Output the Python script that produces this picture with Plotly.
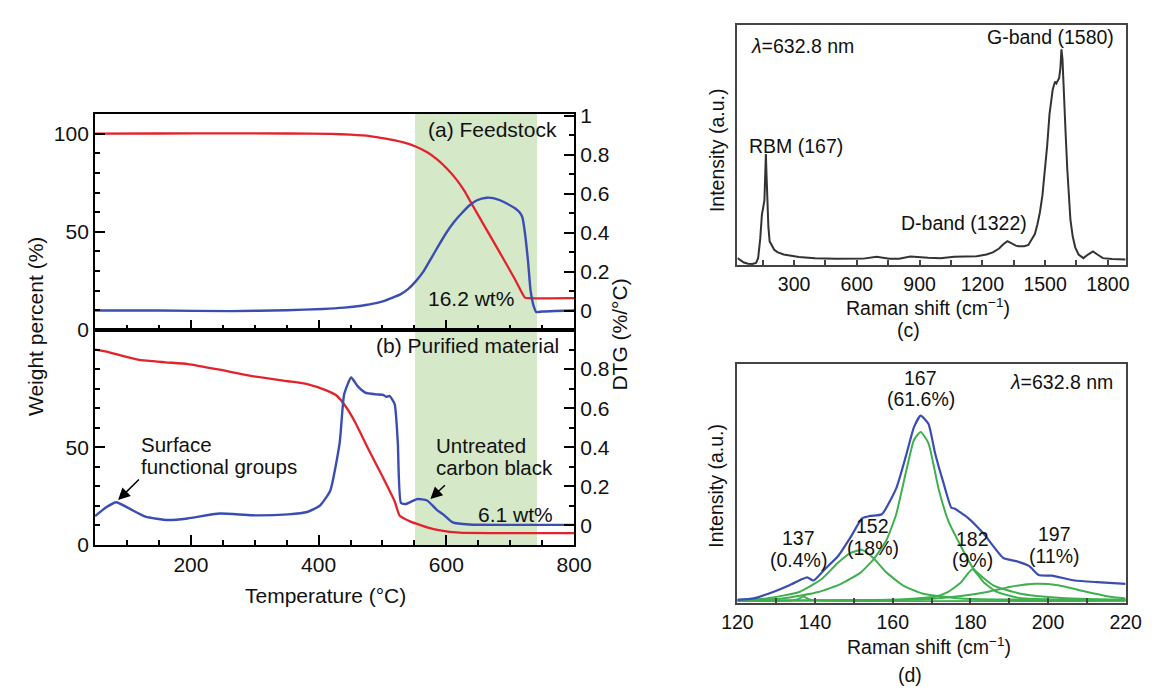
import plotly.graph_objects as go

W, H = 1155, 695
FONT = "Liberation Sans, Arial, Helvetica, sans-serif"

# ---------------- data ----------------
# (a) Feedstock: weight percent (red) and DTG (blue)
a_temp_w = [50, 150, 250, 350, 420, 450, 480, 505, 530, 552, 570, 585, 600, 615, 628, 639, 660, 684, 708, 723, 728, 800]
a_weight = [100, 100.1, 100.2, 100.1, 99.9, 99.5, 98.8, 97.5, 95.8, 93.5, 90.5, 87, 82.5, 77, 71, 64.7, 52.8, 39.3, 25.5, 16.5, 16.2, 16.2]
a_temp_d = [50, 150, 263, 350, 407, 440, 467, 490, 503, 515, 528, 540, 552, 564, 576, 588, 600, 612, 624, 636, 648, 663,
            675, 684, 696, 708, 714, 719, 723, 728, 732, 737, 741, 750, 770, 800]
a_dtg = [0.0, 0.0, -0.003, 0.002, 0.008, 0.015, 0.025, 0.038, 0.05, 0.065, 0.083, 0.11, 0.15, 0.2, 0.267, 0.335, 0.4,
         0.455, 0.5, 0.54, 0.567, 0.58, 0.577, 0.567, 0.548, 0.525, 0.508, 0.48, 0.4, 0.25, 0.1, 0.02, -0.008, -0.005,
         -0.002, 0.0]

# (b) Purified material
b_temp_w = [50, 68, 90, 119, 160, 195, 245, 296, 352, 382, 413, 428, 443, 458, 478, 499, 519, 527, 544, 554, 570, 590,
            620, 680, 800]
b_weight = [100, 99, 97, 94.7, 93.5, 92.6, 89.7, 86.4, 83.8, 82.3, 79.0, 76.5, 70.6, 62.3, 49, 35.7, 22.4, 15, 12.0,
            10.8, 9.0, 7.5, 6.3, 6.1, 6.1]
b_temp_d = [50, 68, 83, 104, 129, 164, 195, 245, 296, 352, 382, 402, 418, 433, 440, 451, 461, 473, 489, 501, 506, 511,
            519, 524, 529, 537, 554, 570, 585, 595, 610, 636, 700, 800]
b_dtg = [0.048, 0.094, 0.119, 0.086, 0.045, 0.028, 0.036, 0.061, 0.052, 0.057, 0.069, 0.102, 0.176, 0.424, 0.671, 0.757,
         0.713, 0.680, 0.671, 0.668, 0.658, 0.663, 0.622, 0.424, 0.115, 0.110, 0.135, 0.128, 0.08, 0.057, 0.016, 0.005,
         0.003, 0.003]

# (c) Raman spectrum
c_shift = [29, 45, 60, 80, 100, 118, 128, 138, 146, 152, 158, 162, 165, 168, 172, 177, 183, 192, 205, 220, 250, 323, 400,
           500, 632, 694, 756, 802, 856, 941, 1000, 1065, 1120, 1173, 1220, 1250, 1280, 1300, 1320, 1340, 1360, 1374,
           1400, 1420, 1430, 1440, 1451, 1463, 1475, 1487, 1498, 1510, 1521, 1530, 1536, 1542, 1548, 1554, 1560, 1567,
           1573, 1578, 1583, 1590, 1598, 1606, 1614, 1621, 1632, 1644, 1660, 1683, 1705, 1729, 1750, 1776, 1820, 1885]
c_int = [0.03, 0.02, 0.012, 0.007, 0.006, 0.01, 0.03, 0.11, 0.21, 0.24, 0.27, 0.38, 0.464, 0.38, 0.26, 0.16, 0.1, 0.085,
         0.065, 0.055, 0.045, 0.035, 0.03, 0.027, 0.028, 0.036, 0.028, 0.028, 0.037, 0.032, 0.03, 0.036, 0.036, 0.038,
         0.045, 0.054, 0.07, 0.088, 0.101, 0.092, 0.082, 0.08, 0.08, 0.085, 0.1, 0.11, 0.13, 0.17, 0.22, 0.29, 0.38,
         0.5, 0.63, 0.7, 0.73, 0.75, 0.765, 0.758, 0.77, 0.78, 0.82, 0.9, 0.86, 0.68, 0.55, 0.4, 0.28, 0.19, 0.12,
         0.075, 0.045, 0.03, 0.045, 0.058, 0.045, 0.03, 0.026, 0.024]

# (d) RBM region: measured (blue) and fitted components (green)
d_shift = [120, 124.2, 129.2, 133.4, 136.7, 138, 139.6, 142.5, 145.9, 149.2, 152.1, 154.2, 157.2, 160.9, 163.4, 165.5,
           167.2, 169.2, 170.9, 173, 175.1, 175.9, 179.3, 183.4, 188.5, 191.8, 195.1, 197.6, 201, 206.8, 212.6, 220]
d_int = [0.014, 0.02, 0.047, 0.075, 0.101, 0.108, 0.095, 0.142, 0.196, 0.277, 0.355, 0.365, 0.372, 0.48, 0.615, 0.737,
         0.784, 0.75, 0.628, 0.507, 0.399, 0.396, 0.358, 0.291, 0.189, 0.176, 0.156, 0.118, 0.115, 0.095, 0.088, 0.081]
fit167_x = [120, 131.7, 140.9, 146.7, 151.7, 155, 158.4, 160.9, 163.4, 165.5, 167.2, 169.2, 171.8, 174.3, 177.6, 180.9,
            185.9, 192.6, 202.6, 220]
fit167_y = [0.014, 0.02, 0.047, 0.081, 0.128, 0.182, 0.264, 0.372, 0.547, 0.683, 0.716, 0.669, 0.48, 0.345, 0.237, 0.142,
            0.075, 0.041, 0.023, 0.014]
fit152_x = [120, 127.5, 135.9, 141.7, 145.9, 149.2, 152.1, 155, 158.4, 162.6, 167.6, 177.6, 220]
fit152_y = [0.012, 0.02, 0.047, 0.101, 0.169, 0.21, 0.223, 0.189, 0.128, 0.075, 0.041, 0.02, 0.012]
fit137_x = [120, 133, 135.5, 137, 138.5, 141, 220]
fit137_y = [0.01, 0.011, 0.016, 0.028, 0.016, 0.011, 0.01]
fit182_x = [120, 160, 166, 170.9, 174.3, 177.6, 180.5, 183.4, 186.8, 192.6, 200, 220]
fit182_y = [0.01, 0.014, 0.02, 0.027, 0.047, 0.088, 0.142, 0.088, 0.047, 0.022, 0.016, 0.012]
fit197_x = [120, 150, 169.2, 177.6, 184.3, 190.1, 196.8, 202.6, 209.3, 216, 220]
fit197_y = [0.01, 0.013, 0.018, 0.03, 0.047, 0.068, 0.081, 0.075, 0.05, 0.027, 0.02]

temp_ticks = [200, 400, 600, 800]
raman_ticks = [300, 600, 900, 1200, 1500, 1800]
rbm_ticks = [120, 140, 160, 180, 200, 220]

RED = "#e3232b"
BLUE = "#3a4db3"
GREEN_LINE = "#3fb04e"
SHADE = "#d5e8c8"
GRAY = "#333333"


def X(p):
    return p / W


def Y(p):
    return 1 - p / H


fig = go.Figure()
spl = dict(shape="spline", smoothing=0.5)
fig.add_trace(go.Scatter(x=a_temp_w, y=a_weight, xaxis="x", yaxis="y", mode="lines",
                         line=dict(color=RED, width=2.3, **spl)))
fig.add_trace(go.Scatter(x=a_temp_d, y=a_dtg, xaxis="x", yaxis="y2", mode="lines",
                         line=dict(color=BLUE, width=2.4, **spl)))
fig.add_trace(go.Scatter(x=b_temp_w, y=b_weight, xaxis="x2", yaxis="y3", mode="lines",
                         line=dict(color=RED, width=2.3, **spl)))
fig.add_trace(go.Scatter(x=b_temp_d, y=b_dtg, xaxis="x2", yaxis="y4", mode="lines",
                         line=dict(color=BLUE, width=2.4, **spl)))
fig.add_trace(go.Scatter(x=c_shift, y=c_int, xaxis="x3", yaxis="y5", mode="lines",
                         line=dict(color=GRAY, width=2)))
for fx, fy in [(fit137_x, fit137_y), (fit152_x, fit152_y), (fit167_x, fit167_y),
               (fit182_x, fit182_y), (fit197_x, fit197_y)]:
    fig.add_trace(go.Scatter(x=fx, y=fy, xaxis="x4", yaxis="y6", mode="lines",
                             line=dict(color=GREEN_LINE, width=2, **spl)))
fig.add_trace(go.Scatter(x=d_shift, y=d_int, xaxis="x4", yaxis="y6", mode="lines",
                         line=dict(color=BLUE, width=2.2, **spl)))

ab_dom_x = [X(81.5), X(575)]
a_dom_y = [Y(330), Y(107.3)]
b_dom_y = [Y(551.7), Y(330)]
cd_dom_x = [X(743.3), X(1143.3)]
c_dom_y = [Y(263.3), Y(15.7)]
d_dom_y = [Y(611.7), Y(365)]

tf_ab = dict(family=FONT, size=21, color="#111")
tf_cd = dict(family=FONT, size=19.5, color="#111")
base = dict(showgrid=False, zeroline=False, showline=True, linecolor="black", linewidth=2,
            ticks="inside", tickcolor="black", tickfont=tf_ab)
mn = dict(ticks="inside", tick0=0, ticklen=5, tickwidth=1.5, tickcolor="black")

fig.update_layout(
    width=W, height=H, margin=dict(l=0, r=0, t=0, b=0), autosize=False,
    paper_bgcolor="white", plot_bgcolor="white", showlegend=False,
    font=dict(family=FONT, size=20, color="#111"),
    xaxis=dict(base, domain=ab_dom_x, anchor="y", range=[50, 800], tickvals=temp_ticks, ticklen=10,
               tickwidth=2, showticklabels=False, mirror=True, minor=dict(mn, dtick=50)),
    yaxis=dict(base, domain=a_dom_y, anchor="x", range=[0, 110], tickvals=[0, 50, 100], ticklen=10, tickwidth=2,
               minor=dict(mn, dtick=10)),
    yaxis2=dict(base, overlaying="y", side="right", anchor="x", range=[-0.1, 1.01],
                tickvals=[0, 0.2, 0.4, 0.6, 0.8, 1], ticktext=["0", "0.2", "0.4", "0.6", "0.8", "1"],
                ticklen=10, tickwidth=2, minor=dict(mn, dtick=0.1)),
    xaxis2=dict(base, domain=ab_dom_x, anchor="y3", range=[50, 800], tickvals=temp_ticks, ticklen=10,
                tickwidth=2, mirror=True, minor=dict(mn, dtick=50)),
    yaxis3=dict(base, domain=b_dom_y, anchor="x2", range=[0, 110], tickvals=[0, 50], ticklen=10, tickwidth=2,
                minor=dict(mn, dtick=10)),
    yaxis4=dict(base, overlaying="y3", side="right", anchor="x2", range=[-0.1, 1.0],
                tickvals=[0, 0.2, 0.4, 0.6, 0.8], ticktext=["0", "0.2", "0.4", "0.6", "0.8"],
                ticklen=10, tickwidth=2, minor=dict(mn, dtick=0.1)),
    xaxis3=dict(base, domain=cd_dom_x, anchor="y5", range=[29, 1885], tickvals=raman_ticks, ticklen=5,
                tickwidth=1.5, mirror=True, linecolor="#444", tickcolor="#444", tickfont=tf_cd,
                minor=dict(mn, dtick=150, tickcolor="#444")),
    yaxis5=dict(base, domain=c_dom_y, anchor="x3", range=[0, 1], showticklabels=False, ticks="",
                mirror=True, linecolor="#444"),
    xaxis4=dict(base, domain=cd_dom_x, anchor="y6", range=[120, 220], tickvals=rbm_ticks, ticklen=5,
                tickwidth=1.5, mirror=True, linecolor="#444", tickcolor="#444", tickfont=tf_cd,
                minor=dict(mn, dtick=10, tickcolor="#444")),
    yaxis6=dict(base, domain=d_dom_y, anchor="x4", range=[0, 1], showticklabels=False, ticks="",
                mirror=True, linecolor="#444"),
)

# green shaded burn-off windows
for xr, yr in [("x", "y domain"), ("x2", "y3 domain")]:
    fig.add_shape(type="rect", xref=xr, yref=yr, x0=551, x1=742, y0=0, y1=1,
                  fillcolor=SHADE, line=dict(width=0), layer="below")

ann = []


def txt(text, x, y, xref="paper", yref="paper", xanchor="center", yanchor="middle", size=20, angle=0):
    ann.append(dict(text=text, x=x, y=y, xref=xref, yref=yref, xanchor=xanchor, yanchor=yanchor,
                    showarrow=False, textangle=angle, borderpad=0,
                    font=dict(family=FONT, size=size, color="#111")))


# axis titles
txt("Weight percent (%)", X(20), Y(326.5), size=21, angle=-90)
txt("DTG (%/°C)", X(622), Y(335), size=21, angle=-90)
txt("Temperature (°C)", X(319), Y(604), size=21)
txt("Intensity (a.u.)", X(721.7), Y(144), size=19.5, angle=-90)
txt("Raman shift (cm<sup>−1</sup>)", X(940), Y(306), size=19.5)
txt("(c)", X(920), Y(330), size=19.5)
txt("Intensity (a.u.)", X(721.7), Y(490), size=19.5, angle=-90)
txt("Raman shift (cm<sup>−1</sup>)", X(941), Y(656), size=19.5)
txt("(d)", X(921), Y(686), size=19.5)

# panel (a)
txt("(a) Feedstock", 775, 0.933, "x", "y2", xanchor="right", size=21)
txt("16.2 wt%", 570, 0.063, "x", "y2", xanchor="left", size=21)
# panel (b)
txt("(b) Purified material", 778, 0.919, "x2", "y4", xanchor="right", size=21)
txt("Surface", 121, 0.415, "x2", "y4", xanchor="left", size=20.5)
txt("functional groups", 121, 0.302, "x2", "y4", xanchor="left", size=20.5)
txt("Untreated", 582, 0.408, "x2", "y4", xanchor="left", size=20.5)
txt("carbon black", 582, 0.295, "x2", "y4", xanchor="left", size=20.5)
txt("6.1 wt%", 768, 0.057, "x2", "y4", xanchor="right", size=21)
for hx, hy, tx, ty in [(86, 0.13, 121, 0.243), (575, 0.135, 600, 0.213)]:
    ann.append(dict(text="", x=hx, y=hy, xref="x2", yref="y4", ax=tx, ay=ty, axref="x2", ayref="y4",
                    showarrow=True, arrowhead=2, arrowsize=1.6, arrowwidth=1.5, arrowcolor="black", standoff=0))
# panel (c)
txt("<i>λ</i>=632.8 nm", 91, 0.915, "x3", "y5", xanchor="left", size=19.5)
txt("RBM (167)", 310, 0.498, "x3", "y5", size=19.5)
txt("D-band (1322)", 1111, 0.175, "x3", "y5", size=19.5)
txt("G-band (1580)", 1524, 0.949, "x3", "y5", size=19.5)
# panel (d)
txt("<i>λ</i>=632.8 nm", 217, 0.926, "x4", "y6", xanchor="right", size=19.5)
for lx, l1, l2, y1, y2 in [(167.2, "167", "(61.6%)", 0.942, 0.853), (135.7, "137", "(0.4%)", 0.274, 0.18),
                           (154.9, "152", "(18%)", 0.322, 0.23), (180.6, "182", "(9%)", 0.27, 0.18),
                           (201.8, "197", "(11%)", 0.288, 0.196)]:
    txt(l1, lx, y1, "x4", "y6", size=19.5)
    txt(l2, lx, y2, "x4", "y6", size=19.5)

fig.update_layout(annotations=ann)
fig.write_html("out.html")
